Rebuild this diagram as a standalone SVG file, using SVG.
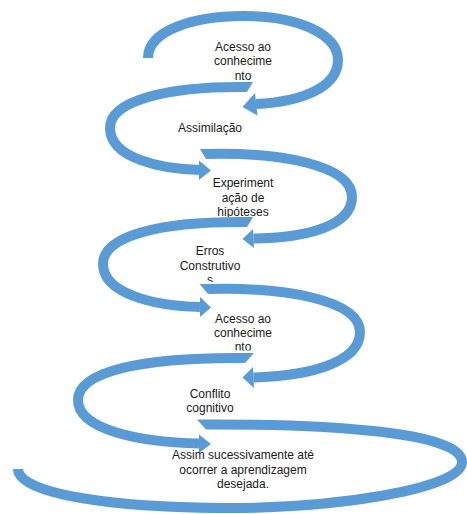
<svg xmlns="http://www.w3.org/2000/svg" width="467" height="514" viewBox="0 0 467 514">
  <style>
    .band { fill: none; stroke: #5B9BD5; stroke-width: 10; stroke-linecap: butt; }
    .head { fill: #5B9BD5; stroke: none; }
    .lbl { font-family: "Liberation Sans", Arial, sans-serif; font-size: 12px; fill: #1a1a1a; text-anchor: middle; }
  </style>
  <defs>
    <clipPath id="clip3"><rect x="150" y="170" width="180" height="47"/></clipPath>
    <clipPath id="clip4"><rect x="150" y="240" width="130" height="42"/></clipPath>
    <clipPath id="clip5"><rect x="180" y="305" width="130" height="45.5"/></clipPath>
  </defs>
  <rect x="0" y="0" width="467" height="514" fill="#ffffff"/>
  <g id="connectors">
    <g id="arrow1">
      <path class="band" d="M148,58 C148,30 195,16 243,16 C300,16 338,35 338,60 C338,88 300,102 256,104"/>
      <polygon class="head" points="255,93 257.5,115.5 242.5,107"/>
    </g>
    <g id="arrow2">
      <path class="band" d="M247,87 C170,86 110,100 110,128 C110,158 160,169 200,170"/>
      <polygon class="head" points="247,82 253,82 247,92"/>
      <polygon class="head" points="199,160.5 199,180 211,170.5"/>
    </g>
    <g id="arrow3">
      <path class="band" d="M206,154 C280,152 352,165 352,197 C352,228 300,238 253.5,238.5"/>
      <polygon class="head" points="200,149 206,149 206,159"/>
      <polygon class="head" points="253,229 254,248 242.5,239"/>
    </g>
    <g id="arrow4">
      <path class="band" d="M247,222 C160,221 103,236 103,264 C103,294 155,306 200,307"/>
      <polygon class="head" points="247,217 253,217 247,227"/>
      <polygon class="head" points="200,297 200,317 211,307.5"/>
    </g>
    <g id="arrow5">
      <path class="band" d="M208,289 C285,287 360,300 360,332 C360,364 305,376 253.5,377.5"/>
      <polygon class="head" points="199.5,284 208,284 208,294"/>
      <polygon class="head" points="253,367 254,388 242.5,377.5"/>
    </g>
    <g id="arrow6">
      <path class="band" d="M245,358 C140,357 78,372 78,400 C78,430 140,442 199,443.5"/>
      <polygon class="head" points="245,353 254,353 245,363"/>
      <polygon class="head" points="199,434.5 199,453 211,444"/>
    </g>
    <g id="arrow7">
      <path class="band" d="M206,424.5 C330,424 462,432 462,462 C462,490 330,508 230,508 C120,508 18,495 18,469"/>
      <polygon class="head" points="197,419.5 206,419.5 206,429.5"/>
    </g>
  </g>
  <g id="node1">
    <text class="lbl" x="243" y="50.5">Acesso ao</text>
    <text class="lbl" x="243" y="65">conhecime</text>
    <text class="lbl" x="243" y="79.5">nto</text>
  </g>
  <g id="node2">
    <text class="lbl" x="210" y="132">Assimilação</text>
  </g>
  <g id="node3" clip-path="url(#clip3)">
    <text class="lbl" x="243" y="187">Experiment</text>
    <text class="lbl" x="243" y="201.6">ação de</text>
    <text class="lbl" x="243" y="216.2">hipóteses</text>
  </g>
  <g id="node4" clip-path="url(#clip4)">
    <text class="lbl" x="210" y="255">Erros</text>
    <text class="lbl" x="210" y="269.5">Construtivo</text>
    <text class="lbl" x="210" y="284">s</text>
  </g>
  <g id="node5" clip-path="url(#clip5)">
    <text class="lbl" x="243" y="322.5">Acesso ao</text>
    <text class="lbl" x="243" y="336.5">conhecime</text>
    <text class="lbl" x="243" y="351">nto</text>
  </g>
  <g id="node6">
    <text class="lbl" x="210" y="397.5">Conflito</text>
    <text class="lbl" x="210" y="411.5">cognitivo</text>
  </g>
  <g id="node7">
    <text class="lbl" x="243" y="459">Assim sucessivamente até</text>
    <text class="lbl" x="243" y="473.5">ocorrer a aprendizagem</text>
    <text class="lbl" x="243" y="488">desejada.</text>
  </g>
</svg>
